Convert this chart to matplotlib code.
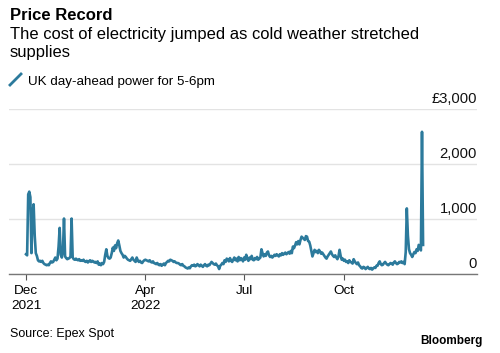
"""Recreate the Bloomberg 'Price Record' chart of UK day-ahead power prices."""

import matplotlib

matplotlib.use("Agg")
import matplotlib.pyplot as plt
import pandas as pd
from matplotlib.lines import Line2D

START_DATE = "2021-12-12"

# GBP/MWh for the 5-6pm hour, one value per day
DEC_2021 = [360, 340, 1450, 1500, 1400, 380, 1100, 1270, 700, 380,
            330, 250, 230, 240, 220, 240, 200, 180, 170, 160]
JAN_2022 = [170, 160, 200, 230, 210, 220, 260, 300, 250, 280,
            500, 840, 350, 300, 420, 1010, 320, 290, 270, 280,
            290, 320, 1010, 300, 270, 260, 280, 260, 250, 270, 240]
FEB_2022 = [250, 240, 260, 230, 220, 240, 210, 230, 250, 220,
            240, 230, 210, 220, 200, 230, 170, 190, 160, 200,
            180, 220, 350, 450, 330, 290, 280, 300]
MAR_2022 = [380, 480, 420, 520, 470, 560, 610, 520, 420, 380,
            350, 300, 330, 310, 280, 260, 250, 240, 270, 300,
            260, 240, 220, 300, 250, 220, 240, 210, 200, 230, 250]
APR_2022 = [260, 250, 240, 230, 250, 220, 210, 230, 200, 190,
            180, 200, 170, 160, 180, 150, 170, 190, 160, 200,
            220, 240, 230, 260, 250, 240, 220, 230, 210, 200]
MAY_2022 = [200, 190, 170, 160, 180, 150, 140, 120, 110, 100,
            120, 105, 140, 160, 150, 170, 140, 150, 180, 160,
            140, 170, 150, 130, 160, 180, 150, 140, 170, 160, 190]
JUN_2022 = [220, 200, 180, 170, 190, 160, 140, 90, 150, 170,
            200, 180, 250, 220, 280, 260, 230, 290, 240, 220,
            260, 300, 250, 280, 230, 310, 250, 290, 270, 230]
JUL_2022 = [300, 260, 350, 280, 240, 300, 270, 330, 260, 250,
            290, 270, 310, 260, 280, 300, 450, 380, 320, 360,
            330, 390, 410, 340, 310, 330, 300, 320, 350, 330, 360]
AUG_2022 = [340, 320, 360, 340, 380, 350, 370, 390, 360, 380,
            400, 370, 420, 380, 500, 470, 520, 580, 540, 600,
            540, 620, 680, 660, 640, 620, 690, 680, 600, 590, 520]
SEP_2022 = [420, 320, 380, 440, 400, 420, 380, 440, 410, 370,
            390, 360, 330, 300, 280, 320, 350, 380, 410, 360,
            330, 310, 340, 300, 270, 320, 440, 330, 260, 280]
OCT_2022 = [240, 260, 220, 230, 200, 250, 220, 210, 190, 270,
            230, 200, 180, 210, 160, 140, 110, 100, 130, 120,
            90, 110, 130, 100, 90, 110, 80, 100, 120, 110, 150]
NOV_2022 = [150, 200, 230, 180, 160, 170, 200, 220, 190, 170,
            160, 180, 200, 190, 170, 210, 230, 200, 180, 190,
            220, 210, 230, 200, 220, 180, 400, 1195, 700, 450]
DEC_2022 = [380, 350, 310, 360, 400, 380, 450, 420, 530, 480,
            430, 2590, 530]

TICK_DATES = ["2021-12-12", "2022-04-01", "2022-07-01", "2022-10-01"]
TICK_LABELS = ["Dec\n2021", "Apr\n2022", "Jul", "Oct"]
Y_TICKS = [0, 1000, 2000, 3000]
Y_LABELS = ["0", "1,000", "2,000", "£3,000"]

LINE_COLOR = "#2c7a9c"
FONT = "Liberation Sans"
W, H = 500, 353


def fx(px):
    """Figure x fraction from a pixel column."""
    return px / W


def fy(px):
    """Figure y fraction from a pixel row (top origin)."""
    return 1 - px / H


def main():
    plt.rcParams["font.family"] = [FONT, "DejaVu Sans"]

    values = (DEC_2021 + JAN_2022 + FEB_2022 + MAR_2022 + APR_2022
              + MAY_2022 + JUN_2022 + JUL_2022 + AUG_2022 + SEP_2022
              + OCT_2022 + NOV_2022 + DEC_2022)
    dates = pd.date_range(START_DATE, periods=len(values), freq="D")

    fig = plt.figure(figsize=(W / 100, H / 100), dpi=100)
    ax = fig.add_axes([fx(9), fy(274), fx(477) - fx(9), fy(109.3) - fy(274)])

    ax.plot(dates, values, color=LINE_COLOR, linewidth=1.9,
            solid_joinstyle="round", zorder=3)

    start = pd.Timestamp(START_DATE)
    ax.set_xlim(start - pd.Timedelta(days=15.7), start + pd.Timedelta(days=415.7))
    ax.set_ylim(0, 3000)

    ax.set_xticks(pd.to_datetime(TICK_DATES))
    ax.set_xticklabels(TICK_LABELS, fontsize=9.7, linespacing=1.35)
    ax.tick_params(axis="x", length=4, width=0.8, color="#555555", pad=4)

    ax.set_yticks(Y_TICKS)
    ax.set_yticklabels([])
    ax.tick_params(axis="y", length=0)
    ax.grid(axis="y", color="#e3e3e3", linewidth=1)
    for value, label in zip(Y_TICKS, Y_LABELS):
        ax.text(1.0, value + 110, label, transform=ax.get_yaxis_transform(),
                ha="right", va="baseline", fontsize=10.6, color="#111111")

    for side in ("top", "right", "left"):
        ax.spines[side].set_visible(False)
    ax.spines["bottom"].set_color("#777777")
    ax.spines["bottom"].set_linewidth(1)
    ax.spines["bottom"].set_zorder(4)

    fig.text(fx(10), fy(20), "Price Record", fontsize=12, fontweight="bold",
             va="baseline")
    fig.text(fx(10), fy(39), "The cost of electricity jumped as cold weather stretched",
             fontsize=11.9, va="baseline")
    fig.text(fx(10), fy(56.7), "supplies", fontsize=11.9, va="baseline")

    fig.add_artist(Line2D([fx(10), fx(21)], [fy(85), fy(74)],
                          color=LINE_COLOR, linewidth=2))
    fig.text(fx(28), fy(85), "UK day-ahead power for 5-6pm", fontsize=9.6,
             va="baseline")

    fig.text(fx(10), fy(337), "Source: Epex Spot", fontsize=9, va="baseline")
    fig.text(fx(483), fy(344), "Bloomberg", fontsize=8.5, fontweight="bold",
             ha="right", va="baseline")

    fig.savefig("out.png", dpi=100)
    plt.close(fig)


if __name__ == "__main__":
    main()
